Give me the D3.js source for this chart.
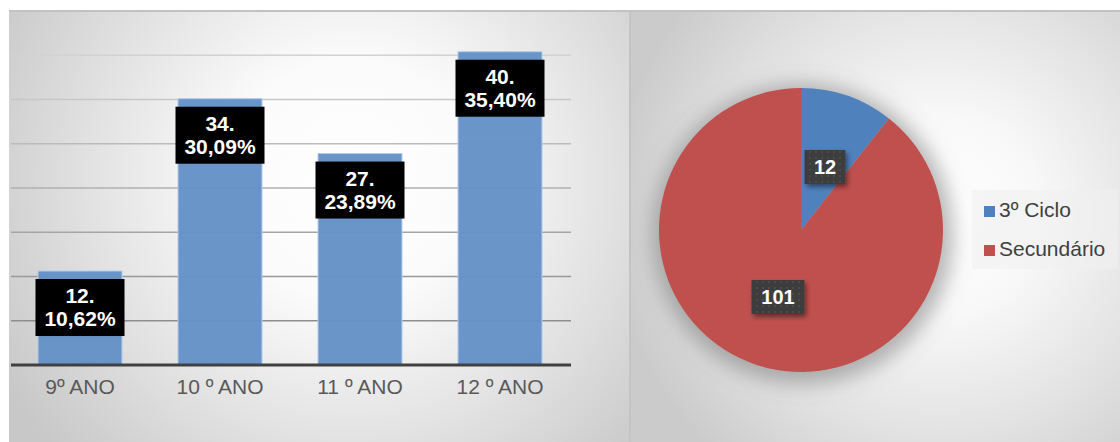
<!DOCTYPE html>
<html>
<head>
<meta charset="utf-8">
<script src="https://cdn.jsdelivr.net/npm/d3@7"></script>
<style>
  body { margin: 0; background: #fff; }
  text { font-family: "Liberation Sans", Arial, sans-serif; }
</style>
</head>
<body>
<div id="chart"></div>
<script>
var width = 1120,
  height = 442;

// dados
var anos = ["9º ANO", "10 º ANO", "11 º ANO", "12 º ANO"];
var alunos = [12, 34, 27, 40];
var ciclos = ["3º Ciclo", "Secundário"];
var ciclosValores = [12, 101];
var gridTicks = [5, 10, 15, 20, 25, 30, 35];

var total = d3.sum(ciclosValores);

var svg = d3.select("#chart")
  .append("svg")
  .attr("width", width)
  .attr("height", height);

var defs = svg.append("defs");

var gradLeft = defs.append("radialGradient")
  .attr("id", "bgLeft")
  .attr("gradientUnits", "userSpaceOnUse")
  .attr("cx", 350).attr("cy", 180).attr("r", 400);
gradLeft.append("stop").attr("offset", 0).attr("stop-color", "#ffffff");
gradLeft.append("stop").attr("offset", 0.3).attr("stop-color", "#fbfbfb");
gradLeft.append("stop").attr("offset", 0.65).attr("stop-color", "#e2e2e2");
gradLeft.append("stop").attr("offset", 1).attr("stop-color", "#c8c8c8");

var gradRight = defs.append("radialGradient")
  .attr("id", "bgRight")
  .attr("gradientUnits", "userSpaceOnUse")
  .attr("cx", 940).attr("cy", 215).attr("r", 330);
gradRight.append("stop").attr("offset", 0).attr("stop-color", "#ffffff");
gradRight.append("stop").attr("offset", 0.3).attr("stop-color", "#f8f8f8");
gradRight.append("stop").attr("offset", 0.7).attr("stop-color", "#e0e0e0");
gradRight.append("stop").attr("offset", 1).attr("stop-color", "#cbcbcb");

var blur = defs.append("filter").attr("id", "pieShadow")
  .attr("x", "-30%").attr("y", "-30%").attr("width", "160%").attr("height", "160%");
blur.append("feGaussianBlur").attr("stdDeviation", 10);

var boxShadow = defs.append("filter").attr("id", "boxShadow")
  .attr("x", "-30%").attr("y", "-30%").attr("width", "170%").attr("height", "170%");
boxShadow.append("feDropShadow")
  .attr("dx", 2).attr("dy", 3).attr("stdDeviation", 2.5)
  .attr("flood-color", "#000").attr("flood-opacity", 0.45);

var dots = defs.append("pattern").attr("id", "dots")
  .attr("patternUnits", "userSpaceOnUse")
  .attr("width", 6).attr("height", 6);
dots.append("rect").attr("width", 6).attr("height", 6).attr("fill", "#3d3d3d");
dots.append("rect").attr("x", 2).attr("y", 2).attr("width", 2).attr("height", 2).attr("fill", "#4c4c4c");

// paineis
svg.append("rect")
  .attr("x", 9).attr("y", 10).attr("width", 620).attr("height", height - 10)
  .attr("fill", "url(#bgLeft)");
svg.append("rect")
  .attr("x", 631).attr("y", 10).attr("width", width - 631).attr("height", height - 10)
  .attr("fill", "url(#bgRight)");
svg.append("line")
  .attr("x1", 9).attr("x2", width).attr("y1", 11).attr("y2", 11)
  .attr("stroke", "#c2c2c2").attr("stroke-width", 2);
svg.append("line")
  .attr("x1", 630).attr("x2", 630).attr("y1", 10).attr("y2", height)
  .attr("stroke", "#c4c4c4").attr("stroke-width", 2);

// grafico de barras
var x = d3.scaleBand()
  .domain(anos)
  .range([10, 570])
  .paddingInner(0.4)
  .paddingOuter(0.2);

var y = d3.scaleLinear()
  .domain([0, 40])
  .range([365, 11]);

var gridColor = d3.scaleLinear()
  .domain([5, 35])
  .range(["#8e8e8e", "#d2d2d2"]);

var bars = svg.append("g");

bars.selectAll(".grid")
  .data(gridTicks)
  .enter()
  .append("line")
  .attr("class", "grid")
  .attr("x1", 11).attr("x2", 571)
  .attr("y1", function(d){ return y(d); })
  .attr("y2", function(d){ return y(d); })
  .attr("stroke", function(d){ return gridColor(d); })
  .attr("stroke-width", 1.5);

bars.selectAll(".bar")
  .data(alunos)
  .enter()
  .append("rect")
  .attr("class", "bar")
  .attr("x", function(d, i){ return x(anos[i]); })
  .attr("y", function(d){ return y(d / total * 100); })
  .attr("width", x.bandwidth())
  .attr("height", function(d){ return y(0) - y(d / total * 100); })
  .attr("fill", "#6592c7")
  .attr("fill-opacity", 0.97)
  .attr("stroke", "#b3cbe8")
  .attr("stroke-width", 1);

bars.append("line")
  .attr("x1", 11).attr("x2", 571)
  .attr("y1", y(0)).attr("y2", y(0))
  .attr("stroke", "#404040").attr("stroke-width", 3);

var xAxis = d3.axisBottom(x).tickSize(0).tickPadding(14);
var gx = bars.append("g")
  .attr("transform", "translate(0," + y(0) + ")")
  .call(xAxis);
gx.select(".domain").remove();
gx.selectAll("text")
  .attr("font-family", "Liberation Sans, Arial, sans-serif")
  .attr("font-size", 21)
  .attr("fill", "#595959");

var fmt = d3.format(".2f");

var labels = bars.selectAll(".lab")
  .data(alunos)
  .enter()
  .append("g")
  .attr("class", "lab")
  .attr("transform", function(d, i){
    return "translate(" + (x(anos[i]) + x.bandwidth() / 2) + "," + (y(d / total * 100) + 8) + ")";
  });
labels.append("rect")
  .attr("x", -44.5).attr("y", 0)
  .attr("width", 89).attr("height", 57)
  .attr("fill", "#000");
labels.append("text")
  .attr("text-anchor", "middle")
  .attr("y", 24)
  .attr("font-size", 21).attr("font-weight", "bold").attr("fill", "#fff")
  .text(function(d){ return d + "."; });
labels.append("text")
  .attr("text-anchor", "middle")
  .attr("y", 47)
  .attr("font-size", 21).attr("font-weight", "bold").attr("fill", "#fff")
  .text(function(d){ return fmt(d / total * 100).replace(".", ",") + "%"; });

// grafico circular
var cx = 801, cy = 230, radius = 142;
var cores = d3.scaleOrdinal().domain(ciclos).range(["#4f81bd", "#c0504d"]);

var pieG = svg.append("g").attr("transform", "translate(" + cx + "," + cy + ")");

pieG.append("circle")
  .attr("r", radius + 8)
  .attr("cx", 2).attr("cy", 4)
  .attr("fill", "#6e6e6e")
  .attr("fill-opacity", 0.5)
  .attr("filter", "url(#pieShadow)");

var pie = d3.pie().sort(null);
var arc = d3.arc().innerRadius(0).outerRadius(radius);
var arcs = pie(ciclosValores);

pieG.selectAll(".slice")
  .data(arcs)
  .enter()
  .append("path")
  .attr("class", "slice")
  .attr("d", arc)
  .attr("fill", function(d, i){ return cores(ciclos[i]); });

var pieLabelPos = [[24, -63], [-23, 67]];
var pieLabels = pieG.selectAll(".plab")
  .data(arcs)
  .enter()
  .append("g")
  .attr("class", "plab")
  .attr("transform", function(d, i){ return "translate(" + pieLabelPos[i][0] + "," + pieLabelPos[i][1] + ")"; });
pieLabels.append("rect")
  .attr("x", function(d){ return d.value > 99 ? -26.5 : -20.5; })
  .attr("y", -17)
  .attr("width", function(d){ return d.value > 99 ? 53 : 41; })
  .attr("height", 34)
  .attr("fill", "url(#dots)")
  .attr("filter", "url(#boxShadow)");
pieLabels.append("text")
  .attr("text-anchor", "middle")
  .attr("y", 7)
  .attr("font-size", 20).attr("font-weight", "bold").attr("fill", "#fff")
  .text(function(d){ return d.value; });

// legenda
var legend = svg.append("g");
legend.append("rect")
  .attr("x", 972).attr("y", 190).attr("width", 146).attr("height", 79)
  .attr("fill", "#f0f0f0").attr("fill-opacity", 0.6);
var items = legend.selectAll(".item")
  .data(ciclos)
  .enter()
  .append("g")
  .attr("class", "item")
  .attr("transform", function(d, i){ return "translate(984," + (206 + i * 39) + ")"; });
items.append("rect")
  .attr("width", 11).attr("height", 11)
  .attr("fill", function(d){ return cores(d); });
items.append("text")
  .attr("x", 15).attr("y", 11)
  .attr("font-size", 21).attr("fill", "#404040")
  .text(function(d){ return d; });
</script>
</body>
</html>
